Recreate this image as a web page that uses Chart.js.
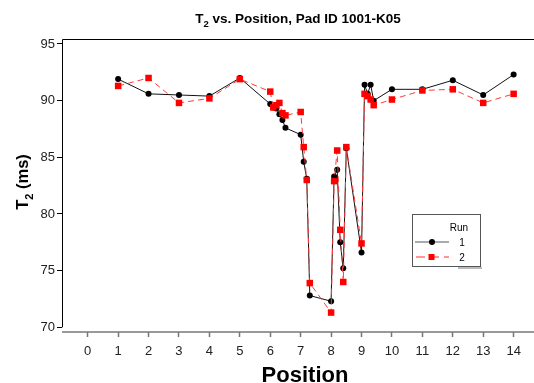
<!DOCTYPE html>
<html>
<head>
<meta charset="utf-8">
<script src="https://cdn.jsdelivr.net/npm/chart.js@4.4.1/dist/chart.umd.min.js"></script>
<style>
    html, body { margin: 0; padding: 0; background: #fff; }
    canvas { display: block; }
</style>
</head>
<body>
<canvas id="t2Chart" width="534" height="383"></canvas>
<script>
// Data
const positions = [1, 2, 3, 4, 5,
    6.0, 6.1, 6.2, 6.3, 6.4, 6.5,
    7.0, 7.1, 7.2, 7.3,
    8.0, 8.1, 8.2, 8.3, 8.4, 8.5,
    9.0, 9.1, 9.2, 9.3, 9.4,
    10, 11, 12, 13, 14];
const run1 = [91.9, 90.6, 90.5, 90.4, 92.0,
    89.7, 89.4, 89.3, 88.8, 88.3, 87.6,
    87.0, 84.6, 83.1, 72.8,
    72.3, 83.3, 83.9, 77.5, 75.2, 85.8,
    76.6, 91.4, 90.6, 91.4, 90.0,
    91.0, 91.0, 91.8, 90.5, 92.3];
const run2 = [91.3, 92.0, 89.8, 90.2, 91.9,
    90.8, 89.4, 89.6, 89.8, 88.9, 88.7,
    89.0, 85.9, 83.0, 73.9,
    71.3, 82.9, 85.6, 78.6, 74.0, 85.9,
    77.4, 90.6, 90.4, 90.1, 89.6,
    90.1, 90.9, 91.0, 89.8, 90.6];
const runLabels = ['1', '2'];
const xTicks = [0, 1, 2, 3, 4, 5, 6, 7, 8, 9, 10, 11, 12, 13, 14];
const yTicks = [70, 75, 80, 85, 90, 95];

const FONT = '"Liberation Sans", Arial, sans-serif';

function toPoints(xs, ys) {
    return xs.map((x, i) => ({ x: x, y: ys[i] }));
}

// text with a subscript part, drawn left to right from (x, y)
function partsWidth(ctx, parts) {
    let w = 0;
    parts.forEach(p => {
        ctx.font = p.font;
        w += ctx.measureText(p.text).width;
    });
    return w;
}
function drawParts(ctx, parts, x, y) {
    parts.forEach(p => {
        ctx.font = p.font;
        ctx.fillText(p.text, x, y + (p.dy || 0));
        x += ctx.measureText(p.text).width;
    });
}

const framePlugin = {
    id: 'frame',
    beforeDatasetsDraw(chart) {
        const ctx = chart.ctx;
        const a = chart.chartArea;
        const y70 = chart.scales.y.getPixelForValue(yTicks[0]);
        ctx.save();
        ctx.strokeStyle = '#000';
        ctx.lineWidth = 1;
        ctx.beginPath();
        ctx.moveTo(a.left + 0.5, y70);
        ctx.lineTo(a.left + 0.5, a.top + 0.5);
        ctx.lineTo(chart.width, a.top + 0.5);
        ctx.stroke();
        ctx.strokeStyle = '#777';
        ctx.lineWidth = 1.5;
        ctx.beginPath();
        ctx.moveTo(a.left, a.bottom);
        ctx.lineTo(chart.width, a.bottom);
        ctx.stroke();
        ctx.restore();
    },
    afterDraw(chart) {
        const ctx = chart.ctx;
        const a = chart.chartArea;
        const cx = (a.left + chart.width) / 2;
        ctx.save();
        ctx.fillStyle = '#000';
        ctx.textBaseline = 'alphabetic';

        // main title
        const title = [
            { text: 'T', font: 'bold 13.5px ' + FONT },
            { text: '2', font: 'bold 9.5px ' + FONT, dy: 4 },
            { text: ' vs. Position, Pad ID 1001-K05', font: 'bold 13.5px ' + FONT }
        ];
        drawParts(ctx, title, cx - partsWidth(ctx, title) / 2, 23);

        // x axis title
        ctx.font = 'bold 22px ' + FONT;
        ctx.textAlign = 'center';
        ctx.fillText('Position', cx + 7, 382);
        ctx.textAlign = 'left';

        // y axis title, rotated
        const ytitle = [
            { text: 'T', font: 'bold 16.5px ' + FONT },
            { text: '2', font: 'bold 11px ' + FONT, dy: 5 },
            { text: ' (ms)', font: 'bold 16.5px ' + FONT }
        ];
        ctx.save();
        ctx.translate(28, 182);
        ctx.rotate(-Math.PI / 2);
        drawParts(ctx, ytitle, -partsWidth(ctx, ytitle) / 2, 0);
        ctx.restore();

        // legend box
        const lx = 412, ly = 214, lw = 68, lh = 52;
        ctx.fillStyle = '#fff';
        ctx.fillRect(lx, ly, lw, lh);
        ctx.strokeStyle = '#555';
        ctx.lineWidth = 1;
        ctx.strokeRect(lx + 0.5, ly + 0.5, lw, lh);
        ctx.strokeStyle = '#bbb';
        ctx.lineWidth = 2;
        ctx.beginPath();
        ctx.moveTo(lx + lw - 22, ly + lh + 2);
        ctx.lineTo(lx + lw + 2, ly + lh + 2);
        ctx.stroke();

        ctx.fillStyle = '#000';
        ctx.font = '10px ' + FONT;
        ctx.textAlign = 'center';
        ctx.fillText('Run', 459, 231);
        ctx.fillText(runLabels[0], 462, 246);
        ctx.fillText(runLabels[1], 462, 261);

        // sample run 1
        ctx.strokeStyle = '#aaa';
        ctx.lineWidth = 2;
        ctx.beginPath();
        ctx.moveTo(415, 242);
        ctx.lineTo(449, 242);
        ctx.stroke();
        ctx.fillStyle = '#000';
        ctx.beginPath();
        ctx.arc(432, 242, 3, 0, Math.PI * 2);
        ctx.fill();

        // sample run 2
        ctx.strokeStyle = '#ff2a2a';
        ctx.lineWidth = 1;
        ctx.setLineDash([9, 5]);
        ctx.beginPath();
        ctx.moveTo(416, 257);
        ctx.lineTo(449, 257);
        ctx.stroke();
        ctx.setLineDash([]);
        ctx.fillStyle = '#ff0000';
        ctx.fillRect(428.5, 254, 6, 6);
        ctx.restore();
    }
};

const ctx = document.getElementById('t2Chart').getContext('2d');

const chart = new Chart(ctx, {
    type: 'line',
    data: {
        datasets: [{
            label: runLabels[0],
            data: toPoints(positions, run1),
            borderColor: '#111',
            borderWidth: 1,
            pointBackgroundColor: '#000',
            pointBorderColor: '#000',
            pointBorderWidth: 0,
            pointRadius: 3,
            pointStyle: 'circle',
            tension: 0,
            order: 2
        }, {
            label: runLabels[1],
            data: toPoints(positions, run2),
            borderColor: '#ff3a3a',
            borderWidth: 1,
            borderDash: [6, 4],
            pointBackgroundColor: '#ff0000',
            pointBorderColor: '#ff0000',
            pointBorderWidth: 0,
            pointRadius: 4.6,
            pointStyle: 'rect',
            tension: 0,
            order: 1
        }]
    },
    options: {
        responsive: false,
        devicePixelRatio: 1,
        animation: false,
        clip: false,
        layout: {
            padding: { top: 39, left: 0, right: 0, bottom: 0 }
        },
        plugins: {
            legend: { display: false },
            title: { display: false },
            tooltip: { enabled: false }
        },
        scales: {
            x: {
                type: 'linear',
                min: -0.845,
                max: 14.518,
                afterBuildTicks: (scale) => {
                    scale.ticks = xTicks.map(v => ({ value: v }));
                },
                afterFit: (scale) => {
                    scale.height = 51;
                },
                border: { display: false },
                grid: {
                    display: true,
                    drawOnChartArea: false,
                    drawTicks: true,
                    tickLength: 5,
                    tickColor: '#777',
                    tickWidth: 1.5
                },
                ticks: {
                    color: '#222',
                    padding: 7,
                    maxRotation: 0,
                    autoSkip: false,
                    font: { family: FONT, size: 13 }
                }
            },
            y: {
                type: 'linear',
                min: 69.585,
                max: 95.44,
                afterBuildTicks: (scale) => {
                    scale.ticks = yTicks.map(v => ({ value: v }));
                },
                afterFit: (scale) => {
                    scale.width = 62;
                },
                border: { display: false },
                grid: {
                    display: true,
                    drawOnChartArea: false,
                    drawTicks: true,
                    tickLength: 5,
                    tickColor: '#000',
                    tickWidth: 1
                },
                ticks: {
                    color: '#222',
                    padding: 2,
                    font: { family: FONT, size: 13 }
                }
            }
        }
    },
    plugins: [framePlugin]
});
</script>
</body>
</html>
